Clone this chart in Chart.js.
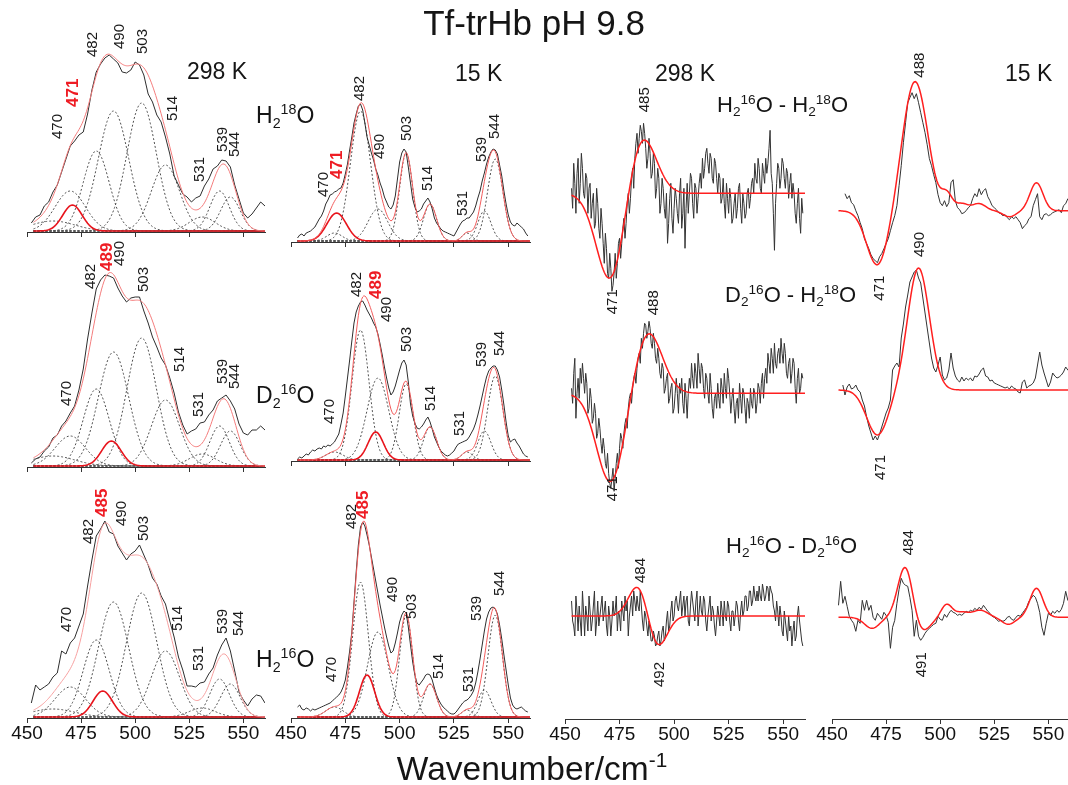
<!DOCTYPE html>
<html>
<head>
<meta charset="utf-8">
<script src="https://cdn.jsdelivr.net/npm/chart.js@4.4.1/dist/chart.umd.min.js"></script>
<style>
  html, body { margin: 0; padding: 0; background: #fff; overflow: hidden; }
  #fig { position: relative; width: 1068px; height: 785px; overflow: hidden;
         font-family: "Liberation Sans", Arial, Helvetica, sans-serif; color: #151515; }
  #fig canvas { position: absolute; }
  .t { position: absolute; white-space: nowrap; line-height: 1; }
  .t sub, .t sup { font-size: 62%; line-height: 0; }
  .t sub { vertical-align: -0.32em; }
  .t sup { vertical-align: 0.62em; }
</style>
</head>
<body>
<div id="fig">
  <canvas id="r1c1"></canvas><canvas id="r2c1"></canvas><canvas id="r3c1"></canvas>
  <canvas id="r1c2"></canvas><canvas id="r2c2"></canvas><canvas id="r3c2"></canvas>
  <canvas id="c3"></canvas><canvas id="c4"></canvas>

  <div class="t" style="left:0;width:1068px;text-align:center;top:5px;font-size:35px">Tf-trHb pH 9.8</div>
  <div class="t" style="left:187px;top:60px;font-size:23px">298 K</div>
  <div class="t" style="left:455px;top:62px;font-size:23px">15 K</div>
  <div class="t" style="left:655px;top:62px;font-size:23px">298 K</div>
  <div class="t" style="left:1005px;top:62px;font-size:23px">15 K</div>
  <div class="t" style="left:256px;top:104px;font-size:23px">H<sub>2</sub><sup>18</sup>O</div>
  <div class="t" style="left:256px;top:384px;font-size:23px">D<sub>2</sub><sup>16</sup>O</div>
  <div class="t" style="left:256px;top:648px;font-size:23px">H<sub>2</sub><sup>16</sup>O</div>
  <div class="t" style="left:717px;top:94px;font-size:22px">H<sub>2</sub><sup>16</sup>O - H<sub>2</sub><sup>18</sup>O</div>
  <div class="t" style="left:725px;top:284px;font-size:22px">D<sub>2</sub><sup>16</sup>O - H<sub>2</sub><sup>18</sup>O</div>
  <div class="t" style="left:726px;top:535px;font-size:22px">H<sub>2</sub><sup>16</sup>O - D<sub>2</sub><sup>16</sup>O</div>
  <div class="t" style="left:0;width:1064px;text-align:center;top:752px;font-size:33.5px">Wavenumber/cm<sup>-1</sup></div>
</div>

<script>
// ---- axis
const xMin = 450, xMax = 560;
const xTicks = [450, 475, 500, 525, 550];

// ---- fitted Raman bands (cm-1); heights/widths per spectrum, same order
const bandCentres = [470, 482, 490, 503, 514, 531, 539, 544];

// 298 K spectra, sampled every 2 cm-1 from 452
const spec298H218 = [8, 14, 16, 25, 29, 39, 46, 59, 72, 85, 90, 96, 99, 117, 141, 159, 167, 173, 176, 172,
  168, 159, 158, 161, 169, 166, 156, 137, 129, 116, 109, 94, 77, 55, 46, 37, 34, 29, 33, 35,
  45, 52, 62, 65, 71, 70, 64, 46, 32, 18, 13, 17, 23, 29, 25];
const spec298D216 = [3, 7, 9, 15, 19, 28, 31, 40, 45, 53, 60, 76, 97, 127, 153, 177, 186, 191, 190, 188,
  178, 170, 164, 168, 169, 169, 155, 143, 129, 119, 108, 101, 88, 73, 54, 41, 32, 35, 37, 43,
  44, 51, 56, 65, 68, 71, 65, 57, 42, 33, 31, 36, 36, 40, 36];
const spec298H216 = [14, 32, 27, 30, 33, 40, 44, 66, 63, 74, 79, 91, 103, 131, 157, 181, 188, 196, 185, 183,
  171, 164, 157, 163, 166, 172, 162, 152, 139, 133, 121, 113, 96, 80, 60, 47, 31, 31, 30, 34,
  35, 43, 49, 62, 72, 79, 66, 46, 25, 17, 11, 18, 22, 21, 14];

const h298H218 = [40, 80, 120, 128, 66, 14, 40, 34];
const w298H218 = [7, 6, 7, 6.8, 6.5, 6, 4.5, 4.5];
const mark298H218 = [471, 26, 4.5];
const h298D216 = [30, 77, 114, 128, 66, 12, 40, 35];
const w298D216 = [7, 6, 7, 6.8, 6.5, 6, 4.5, 4.5];
const mark298D216 = [489, 25, 4.5];
const h298H216 = [30, 77, 115, 124, 66, 9, 38, 33];
const w298H216 = [7, 6, 7, 7, 6.5, 6, 4.5, 4.5];
const mark298H216 = [485, 26, 4.5];
const bg298 = [462, 10, 10];

// 15 K spectra, sampled every 1 cm-1 from 453
const spec15H218 = [3, 6, 7, 5, 8, 9, 10, 12, 14, 18, 22, 25, 30, 37, 41, 46, 47, 49, 50, 52,
  53, 58, 67, 77, 91, 104, 118, 127, 135, 137, 131, 118, 104, 96, 88, 81, 72, 66, 58, 52,
  44, 39, 34, 32, 36, 45, 62, 79, 88, 92, 89, 74, 58, 42, 34, 29, 30, 32, 37, 40,
  43, 39, 32, 23, 18, 15, 12, 10, 9, 8, 7, 6, 5, 9, 13, 17, 20, 21, 23, 23,
  26, 29, 35, 43, 50, 60, 68, 77, 84, 89, 92, 91, 87, 76, 65, 50, 37, 26, 19, 16,
  15, 18, 16, 14, 12, 8, 5];
const spec15D216 = [1, 3, 2, 4, 6, 5, 8, 10, 9, 11, 12, 11, 14, 13, 15, 14, 16, 18, 22, 26,
  36, 47, 64, 82, 100, 119, 137, 148, 154, 158, 159, 155, 150, 146, 142, 137, 133, 126, 116, 105,
  93, 82, 72, 65, 68, 74, 82, 90, 97, 100, 95, 78, 56, 44, 37, 32, 31, 33, 36, 40,
  43, 38, 31, 23, 18, 13, 9, 7, 5, 4, 5, 7, 9, 13, 16, 17, 18, 19, 20, 23,
  27, 31, 37, 45, 54, 64, 74, 83, 89, 92, 94, 94, 90, 83, 70, 55, 38, 24, 18, 20,
  21, 17, 14, 10, 6, 4, 3];
const spec15H216 = [10, 12, 8, 7, 9, 8, 6, 8, 7, 8, 9, 10, 11, 12, 13, 14, 16, 18, 20, 22,
  25, 30, 37, 50, 66, 85, 115, 145, 172, 190, 195, 191, 182, 172, 160, 148, 136, 124, 112, 101,
  90, 80, 71, 64, 66, 74, 84, 95, 102, 106, 104, 90, 72, 55, 42, 34, 32, 35, 38, 42,
  43, 42, 37, 29, 22, 17, 13, 10, 8, 6, 4, 3, 3, 5, 8, 11, 14, 16, 17, 19,
  22, 26, 34, 45, 58, 72, 86, 98, 105, 109, 110, 108, 103, 92, 78, 62, 47, 32, 19, 12,
  9, 8, 9, 10, 8, 6, 5];

const h15H218 = [8, 130, 32, 88, 37, 8, 30, 82];
const w15H218 = [3.5, 4.6, 4.5, 3, 3, 2.2, 3, 3.5];
const mark15H218 = [471, 28, 4.5];
const h15D216 = [8, 130, 82, 76, 33, 8, 29, 84];
const w15D216 = [4, 3.9, 5, 3.2, 3, 2.5, 3, 3.5];
const mark15D216 = [489, 28, 3.5];
const h15H216 = [10, 135, 85, 102, 33, 7, 27, 102];
const w15H216 = [4, 3.6, 4.8, 3, 3, 2.5, 3, 3.3];
const mark15H216 = [485, 42, 3.5];

// ---- difference spectra: 298 K every 0.5 cm-1 from 453, 15 K every 1 cm-1
const d298H16H18 = [5, -15, 30, 10, -20, 20, 35, -10, 10, 40, 25, 0, -5, 20, 15, -20, 5, 10, -25, -10,
  0, -35, -30, 5, -10, -35, -45, -15, -30, -50, -70, -40, -55, -80, -85, -60, -75, -98, -92, -80,
  -60, -85, -70, -50, -45, -65, -50, -35, -25, -45, -30, -10, 0, -20, -5, 15, 25, 5, 35, 50,
  60, 40, 55, 68, 62, 50, 70, 60, 45, 25, 35, 55, 40, 15, 20, 40, 30, -5, 5, 25,
  15, -20, -10, 15, 5, -15, -25, 0, -50, -30, -5, 10, -25, -40, -15, 5, -5, -20, -30, 0,
  15, -35, -20, 5, -55, -15, 10, -20, 0, 20, 15, -10, -25, 10, 5, -20, -5, 10, 20, 5,
  35, 15, 25, 40, 45, 30, 20, 40, 35, 15, 10, 35, 30, 15, 0, 20, 15, -10, -5, 15,
  -10, -25, 10, -5, -20, 5, -5, -30, -25, -10, 0, -25, -15, 5, 10, -15, -30, 0, -10, -25,
  -20, 0, 5, -15, -5, 10, 15, 0, 30, 15, 10, 35, 25, 5, 0, 30, 20, 10, 35, 20,
  30, 45, 63, 20, 10, -20, -57, -10, 10, 30, 25, 5, 15, 35, 30, 15, 5, 25, 20, -5,
  10, 20, -5, 10, 0, -20, -30, -10, 5, -25, -40, -5, -20];
const d298D16H18 = [5, -10, 20, 35, -25, 0, 15, -5, 25, 10, 30, 15, 0, 20, 10, -20, -15, 5, -5, -30,
  -25, -10, -20, -45, -40, -25, -35, -50, -60, -45, -55, -70, -75, -60, -80, -90, -95, -85, -75, -98,
  -85, -70, -60, -75, -55, -40, -45, -55, -40, -30, -25, -35, -15, -5, 0, -10, 5, 15, 20, 10,
  25, 35, 40, 30, 55, 45, 60, 70, 68, 55, 62, 72, 65, 50, 45, 60, 50, 35, 30, 45,
  35, 20, 15, 30, 25, 0, 5, 15, 20, -10, -5, 5, 10, -20, -15, 0, 15, 0, -20, 10,
  0, 15, -10, -20, 10, -5, -25, 0, 15, 5, 30, 15, 5, 30, 20, 5, 40, 25, 10, 30,
  25, 5, -5, 20, 15, 0, -10, 20, 5, -15, -25, -5, 0, -15, 10, -5, -15, 15, 5, -10,
  20, 5, -5, 25, 15, 0, -20, -5, 5, -15, -30, -10, -5, -25, 10, -5, -20, 5, 0, -15,
  -30, -5, -10, -25, 5, -10, -15, 5, 0, -20, -10, 10, 5, -10, 10, 20, -5, 15, 25, 10,
  40, 30, 20, 45, 35, 20, 50, 30, 25, 40, 45, 30, 55, 40, 30, 50, 40, 20, 15, 30,
  35, 10, 20, 35, 30, 5, -10, 15, 25, 0, 5, 20, 15];
const d298H16D16 = [15, -5, -10, -20, 20, 5, -15, 10, -5, -20, 25, 5, -20, 10, 0, -15, 20, 5, -15, -5,
  10, 25, -20, -5, 15, -10, 0, 10, 20, -5, 5, 15, -10, -20, 10, 0, -20, -5, 15, 0,
  5, 20, -15, 5, 0, -15, 15, 5, -5, 20, 5, 15, -20, 0, 10, 20, 0, 25, 15, 5,
  20, 10, 5, 25, 10, -5, -15, 5, 0, -10, -20, -5, -15, -25, -25, -15, -20, -30, -28, -20,
  -15, -30, -25, -15, -10, -25, -20, -5, 5, -15, -10, 5, 15, -5, 0, 15, 20, 10, 5, 15,
  25, 0, 10, 20, 0, 15, 20, -5, -10, 10, 25, 15, 5, -5, 15, 25, -10, 5, 20, 5,
  0, 20, 15, -5, -15, 0, 10, 20, -5, 10, 5, -10, -20, -5, 10, 0, -10, 15, 5, -10,
  15, 0, -5, 15, 10, -5, -15, 5, 5, -10, 0, 15, 10, -5, -15, 5, 15, 0, 5, 20,
  20, 5, 10, 25, 25, 10, 15, 30, 20, 15, 25, 15, 30, 20, 15, 32, 25, 15, 20, 30,
  28, 15, 30, 25, 22, 10, 5, -5, 15, 5, -10, 10, 0, -15, -20, 5, -5, -15, -25, 0,
  -15, -10, -30, -15, -5, -25, -20, 0, 10, -5, -15, -25, -30];
const d15H16H18 = [17, 12, 15, 8, 6, 0, -5, -12, -18, -28, -33, -38, -44, -48, -50, -52, -46, -43, -38, -33,
  -28, -20, -12, -5, 5, 25, 45, 68, 88, 108, 113, 118, 112, 117, 108, 98, 88, 78, 66, 52,
  45, 36, 28, 16, 8, 5, 10, 4, 8, 28, 31, 10, 3, 1, -3, -2, 0, 3, 5, 12,
  17, 14, 22, 16, 20, 22, 14, 10, 5, 3, 1, -2, -3, -5, -4, -7, -9, -6, -8, -6,
  -9, -12, -18, -15, -13, -8, -6, 5, 11, 17, -6, -9, -4, -3, -5, -4, -2, -1, 0, 1,
  -2, 5, 7, 12, 14];
const d15D16H18 = [5, -5, 3, 6, 1, 2, 5, 0, -2, -10, -16, -27, -36, -43, -50, -46, -50, -44, -37, -30,
  -23, -18, -10, 20, 24, 27, 23, 52, 66, 83, 95, 108, 113, 118, 120, 112, 107, 92, 77, 62,
  47, 32, 22, 18, 25, 33, 15, 10, 12, 20, 37, 22, 14, 10, 8, 13, 9, 12, 10, 12,
  9, 14, 13, 16, 20, 22, 14, 13, 9, 10, 7, 6, 5, 4, 3, 2, 3, 1, 4, 2,
  1, -2, -3, 8, 10, 2, 4, 5, 7, 12, 25, 38, 25, 17, 10, 3, 8, 17, 14, 12,
  13, 15, 18, 23, 20, 22];
const d15H16D16 = [12, 36, 14, 21, 11, 1, -3, -6, -14, -3, -6, 17, 7, 17, 7, 12, 0, -3, 4, 1,
  -2, 5, 2, -5, -31, -10, -3, 14, 28, 39, 34, 32, 31, 20, 7, -19, -3, -19, -23, -20,
  -16, -13, -11, -9, -7, -6, 1, -2, -3, 3, 0, 4, 7, 5, 4, 2, 3, 2, 4, 6,
  5, 7, 6, 9, 7, 10, 8, 12, 9, 6, 4, 1, 0, -2, -4, -3, -4, -3, 0, 1,
  -2, -3, 0, 2, 1, 4, 7, 10, 16, 19, 22, 20, 14, 5, -10, -18, -6, 4, 2, 6,
  4, 7, 5, 8, 14, 26, 17, 20];

// difference fits: [centre, signed height, width]
const fd298H16H18 = [[485, 60, 6.5], [471, -90, 6.5]];
const fd298D16H18 = [[488, 62, 6.5], [471, -90, 6.5]];
const fd298H16D16 = [[484, 34, 4.5], [492, -34, 4.5]];
const fd15H16H18 = [[488, 125, 5.5], [471, -55, 5], [494, 12, 4], [503, 16, 2.5], [510, 7, 3],
  [518, 7, 3], [532, -6, 3], [544.5, 28, 3]];
const fd15D16H18 = [[490, 122, 5], [471, -45, 5]];
const fd15H16D16 = [[468.5, -11, 3.5], [484, 53, 3.5], [491, -16, 4], [503, 13, 2.5], [510, 5, 3],
  [518.5, 7, 3.5], [531.5, -7, 3], [544.5, 29, 3]];

// ---- helpers
const FONT = '"Liberation Sans", Arial, Helvetica, sans-serif';
const PAD = 25;
Chart.defaults.font.family = FONT;

function span(a, b, step) {
  const out = [];
  for (let w = a; w <= b + 1e-9; w += step) out.push(Math.round(w * 100) / 100);
  return out;
}
function pairs(xs, ys) { return ys.map((y, i) => ({ x: xs[i], y })); }
const FINE = span(453, 560, 0.5);
function gauss(b, w) { return b[1] * Math.exp(-((w - b[0]) ** 2) / (2 * b[2] * b[2])); }
function curve(bands) {
  return FINE.map(w => ({ x: w, y: bands.reduce((s, b) => s + gauss(b, w), 0) }));
}

function xAxis(withLabels, height) {
  return {
    type: 'linear', position: 'bottom', min: xMin, max: xMax,
    afterBuildTicks: ax => { ax.ticks = xTicks.map(v => ({ value: v })); },
    afterFit: ax => { ax.height = height; },
    grid: { drawOnChartArea: false, drawTicks: true, tickLength: 5, color: '#333', lineWidth: 1 },
    border: { display: true, color: '#333', width: 1 },
    ticks: { display: withLabels, autoSkip: false, maxRotation: 0, padding: -1,
             color: '#111', font: { family: FONT, size: 19 } }
  };
}

// rotated peak labels, anchored in data units
function peakLabels(items) {
  return {
    id: 'peakLabels',
    afterDatasetsDraw(chart) {
      const ctx = chart.ctx, xs = chart.scales.x;
      items.forEach(it => {
        const ys = chart.scales[it.axis || 'y'];
        ctx.save();
        ctx.translate(xs.getPixelForValue(it.x), ys.getPixelForValue(it.y));
        ctx.rotate(-Math.PI / 2);
        ctx.font = (it.strong ? 'bold 17px ' : '15px ') + FONT;
        ctx.fillStyle = it.strong ? '#ee1c24' : '#1a1a1a';
        ctx.textAlign = 'left';
        ctx.textBaseline = 'middle';
        ctx.fillText(it.text, 0, 0);
        ctx.restore();
      });
    }
  };
}

function baseOptions(scales) {
  return {
    responsive: false, animation: false, devicePixelRatio: 1, events: [],
    parsing: false, normalized: true,
    layout: { padding: { left: PAD, right: PAD, top: 0, bottom: 0 } },
    elements: { point: { radius: 0 }, line: { tension: 0, fill: false } },
    plugins: { legend: { display: false }, tooltip: { enabled: false } },
    scales
  };
}

// ---- fitted Raman panels
const ramanPanels = [
  { id: 'r1c1', grid: span(452, 560, 2), spec: spec298H218, h: h298H218, w: w298H218, mark: mark298H218, bg: bg298,
    pos: { left: 27, width: 238, top: 20, base: 232, axisH: 6, labels: false },
    at: [[464.4, 92], [480.6, 174], [493, 182], [503.7, 177], [517.6, 110], [530.1, 49], [540.7, 79], [546.3, 74]],
    markAt: [471.5, 124], fitColor: '#f47c7c' },
  { id: 'r2c1', grid: span(452, 560, 2), spec: spec298D216, h: h298D216, w: w298D216, mark: mark298D216, bg: bg298,
    pos: { left: 27, width: 238, top: 236, base: 467, axisH: 6, labels: false },
    at: [[468.5, 60], [479.6, 177], [493, 200], [504.2, 174], [520.8, 94], [529.6, 49], [540.7, 82], [546.3, 77]],
    markAt: [487, 195], fitColor: '#f47c7c' },
  { id: 'r3c1', grid: span(452, 560, 2), spec: spec298H216, h: h298H216, w: w298H216, mark: mark298H216, bg: [462, 8, 10],
    pos: { left: 27, width: 238, top: 470, base: 718, axisH: 30, labels: true },
    at: [[468.5, 85], [478.7, 173], [494, 191], [504.2, 176], [519.9, 86], [529.2, 46], [540.3, 83], [547.7, 81]],
    markAt: [484.7, 200], fitColor: '#f7a0a0' },
  { id: 'r1c2', grid: span(453, 559, 1), spec: spec15H218, h: h15H218, w: w15H218, mark: mark15H218, bg: null,
    pos: { left: 291, width: 239, top: 20, base: 242, axisH: 6, labels: false },
    at: [[464.9, 44], [481.9, 140], [491.1, 82], [503.1, 100], [513.2, 50], [529.3, 25], [538, 79], [543.6, 102]],
    markAt: [471.3, 62], fitColor: '#f25c5c' },
  { id: 'r2c2', grid: span(453, 559, 1), spec: spec15D216, h: h15D216, w: w15D216, mark: mark15D216, bg: null,
    pos: { left: 291, width: 239, top: 236, base: 461, axisH: 6, labels: false },
    at: [[468.1, 36], [480.5, 163], [494.3, 138], [503.1, 108], [514.6, 49], [527.5, 24], [538, 93], [545.9, 104]],
    markAt: [489.3, 161], fitColor: '#f25c5c' },
  { id: 'r3c2', grid: span(453, 559, 1), spec: spec15H216, h: h15H216, w: w15H216, mark: mark15H216, bg: null,
    pos: { left: 291, width: 239, top: 470, base: 718, axisH: 30, labels: true },
    at: [[469, 35], [478.2, 188], [497.1, 115], [505.8, 98], [518.2, 38], [532, 25], [535.7, 96], [545.9, 121]],
    markAt: [483.3, 198], fitColor: '#f25c5c' }
];

ramanPanels.forEach(p => {
  const b = p.pos, cv = document.getElementById(p.id);
  cv.width = b.width + 2 * PAD;
  cv.height = b.base - b.top + b.axisH;
  cv.style.left = (b.left - PAD) + 'px';
  cv.style.top = b.top + 'px';

  const bands = bandCentres.map((c, i) => [c, p.h[i], p.w[i]]);
  const all = bands.concat([p.mark], p.bg ? [p.bg] : []);
  const dashed = (p.bg ? [p.bg] : []).concat(bands).map(bd => ({
    data: curve([bd]), borderColor: '#505050', borderWidth: 1, borderDash: [2, 2]
  }));
  const datasets = [
    { data: curve(all), borderColor: p.fitColor, borderWidth: 1 },
    { data: pairs(p.grid, p.spec), borderColor: '#2e2e2e', borderWidth: 1 },
    { data: curve([p.mark]), borderColor: '#e8141c', borderWidth: 1.6 }
  ].concat(dashed);

  const items = bandCentres.map((c, i) => ({ text: String(c), x: p.at[i][0], y: p.at[i][1] }));
  items.push({ text: String(p.mark[0]), x: p.markAt[0], y: p.markAt[1], strong: true });

  new Chart(cv, {
    type: 'line',
    data: { datasets },
    options: baseOptions({
      x: xAxis(b.labels, b.axisH),
      y: { display: false, min: -1, max: b.base - b.top - 1 }
    }),
    plugins: [peakLabels(items)]
  });
});

// ---- difference columns, three traces over one axis
const diffCols = [
  { id: 'c3', pos: { left: 565, width: 240, top: 40, base: 719 }, rows: [
    { start: 453, step: 0.5, values: d298H16H18, fit: fd298H16H18, y0: 193.3, labels: [['485', 486.7, 81], ['471', 472, -121]] },
    { start: 453, step: 0.5, values: d298D16H18, fit: fd298D16H18, y0: 393.3, labels: [['488', 490.8, 78], ['471', 472, -108]] },
    { start: 453, step: 0.5, values: d298H16D16, fit: fd298H16D16, y0: 616, labels: [['484', 484.9, 33], ['492', 493.6, -71]] }
  ] },
  { id: 'c4', pos: { left: 832, width: 238, top: 40, base: 719 }, rows: [
    { start: 456, step: 1, values: d15H16H18, fit: fd15H16H18, y0: 210.7, labels: [['488', 490.7, 133], ['471', 472.2, -90]] },
    { start: 455, step: 1, values: d15D16H18, fit: fd15D16H18, y0: 390, labels: [['490', 490.7, 133], ['471', 472.7, -90]] },
    { start: 453, step: 1, values: d15H16D16, fit: fd15H16D16, y0: 617.3, labels: [['484', 485.6, 62], ['491', 491.7, -60]] }
  ] }
];

diffCols.forEach(col => {
  const p = col.pos, cv = document.getElementById(col.id);
  cv.width = p.width + 2 * PAD;
  cv.height = p.base - p.top + 30;
  cv.style.left = (p.left - PAD) + 'px';
  cv.style.top = p.top + 'px';

  const scales = { x: xAxis(true, 30) };
  const datasets = [];
  const items = [];
  col.rows.forEach((r, i) => {
    const id = 'y' + (i + 1);
    const xs = span(r.start, r.start + (r.values.length - 1) * r.step, r.step);
    scales[id] = { display: false, min: r.y0 - p.base, max: r.y0 - p.top };
    datasets.push({ data: curve(r.fit), yAxisID: id, borderColor: '#ff1f1f', borderWidth: 1.5 });
    datasets.push({ data: pairs(xs, r.values), yAxisID: id, borderColor: '#333', borderWidth: 1 });
    r.labels.forEach(l => items.push({ text: l[0], x: l[1], y: l[2], axis: id }));
  });

  new Chart(cv, {
    type: 'line',
    data: { datasets },
    options: baseOptions(scales),
    plugins: [peakLabels(items)]
  });
});
</script>
</body>
</html>
